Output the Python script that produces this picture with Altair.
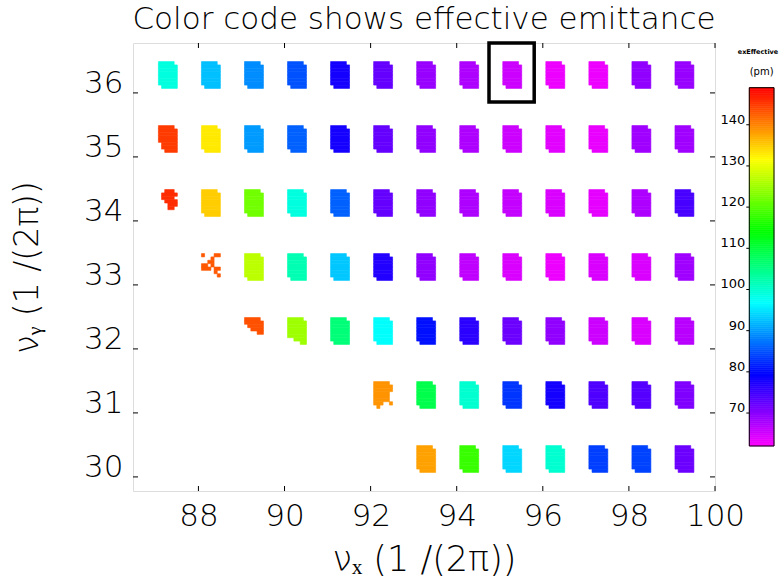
import altair as alt
import pandas as pd

# ---------------- data ----------------
row_nuy = [36, 35, 34, 33, 32, 31, 30]
row_first_nux = [87, 87, 87, 88, 89, 92, 93]
row_emit = [
    [99, 92.5, 89, 85, 78, 72.5, 69, 67.5, 65.5, 63.2, 63.2, 69.5, 69],        # nu_y 36: 87..99
    [145, 133, 90, 86, 78, 72.5, 69.5, 67.5, 65.5, 64, 63.5, 68.5, 68.5],      # nu_y 35: 87..99
    [146, 135, 122, 99, 86, 72.5, 69.5, 67.5, 66, 64.5, 63.8, 67.5, 74.5],     # nu_y 34: 87..99
    [143, 127, 102, 93, 77, 69.5, 66.4, 64.5, 63.2, 64.5, 64.5, 68.5],         # nu_y 33: 88..99
    [143.5, 125, 106, 97, 80.5, 76.5, 72, 69.5, 65.5, 64.5, 66.8],             # nu_y 32: 89..99
    [139, 109, 100, 83, 78, 74, 73.5, 70.7],                                    # nu_y 31: 92..99
    [138, 118, 94, 100, 83.7, 84, 72],                                          # nu_y 30: 93..99
]

# occupied sub-cells (6 columns x 8 rows, top row first) of the tune-scan tiles
default_mask = ["#####.", "######", "######", "######", "######", "######", "######", ".#####"]
partial_masks = {
    (87, 35): ["#####.", "######", "######", "######", "######", ".#####", ".#####", "..####"],
    (87, 34): ["..###.", ".#####", ".####.", "..####", "...###", "...##.", "......", "......"],
    (88, 33): ["#...##", "...#..", "..##..", "##.#..", "###.##", "....#.", ".....#", "......"],
    (89, 32): ["#####.", "######", ".#####", "..####", "....##", "......", "......", "......"],
    (90, 32): ["#####.", "######", "######", "######", "######", "######", "..####", "....##"],
    (92, 31): ["#####.", "######", "######", "#####.", "#####.", "#####.", "###..#", ".#...."],
}

box_nux = [94.75, 95.8]
box_nuy = [35.86, 36.78]

x_ticks = [88, 90, 92, 94, 96, 98, 100]
y_ticks = [30, 31, 32, 33, 34, 35, 36]
cbar_ticks = [70, 80, 90, 100, 110, 120, 130, 140]
cbar_range = [62, 149]
cbar_domain = [62, 79.4, 96.8, 114.2, 131.6, 149]
cbar_colors = ["#ff00ff", "#0000ff", "#00ffff", "#00ff00", "#ffff00", "#ff0000"]
cbar_title = ["exEffective", "(pm)"]

# ---------------- build tile rectangles ----------------
tile_x0, tile_w = 0.07, 0.44
tile_y1, tile_h = 0.49, 0.42
ncol, nrow = 6, 8
dw, dh = tile_w / ncol, tile_h / nrow

recs = []
for nuy, nx0, vals in zip(row_nuy, row_first_nux, row_emit):
    for i, v in enumerate(vals):
        nux = nx0 + i
        mask = partial_masks.get((nux, nuy), default_mask)
        for r, line in enumerate(mask):
            c = 0
            while c < ncol:
                if line[c] == "#":
                    c0 = c
                    while c < ncol and line[c] == "#":
                        c += 1
                    recs.append(dict(
                        x0=nux + tile_x0 + c0 * dw, x1=nux + tile_x0 + c * dw,
                        y1=nuy + tile_y1 - r * dh, y0=nuy + tile_y1 - (r + 1) * dh,
                        emit=v))
                else:
                    c += 1
tiles = pd.DataFrame(recs)

W, H = 582, 448
FONT = "DejaVu Sans"
LIGHT = 200
xscale = alt.Scale(domain=[86.48, 100.0], nice=False, zero=False)
yscale = alt.Scale(domain=[29.78, 36.78], nice=False, zero=False)
cscale = alt.Scale(domain=cbar_domain, range=cbar_colors, interpolate="rgb")
# colour-bar vertical scale: places 62..149 between y=44.7 and y=403 of the plot area
cbscale = alt.Scale(domain=[51.07, 159.85], nice=False, zero=False)

tile_layer = alt.Chart(tiles).mark_rect(strokeWidth=0.6).encode(
    x=alt.X("x0:Q", scale=xscale, title="νₓ  (1 /(2π))",
            axis=alt.Axis(values=x_ticks, ticks=False, domain=False, grid=False,
                          labelFontSize=31, labelFont=FONT, labelFontWeight=LIGHT,
                          labelPadding=10, labelColor="black", labelFlush=False,
                          labelOverlap=False, titleFont=FONT,
                          titleFontSize=35, titleFontWeight=LIGHT, titleColor="black",
                          titlePadding=11, orient="bottom")),
    x2="x1:Q",
    y=alt.Y("y0:Q", scale=yscale, title="νᵧ  (1 /(2π))",
            axis=alt.Axis(values=y_ticks, ticks=False, domain=False, grid=False,
                          labelFontSize=31, labelFont=FONT, labelFontWeight=LIGHT,
                          labelPadding=10, labelBaseline="alphabetic", labelColor="black",
                          labelFlush=False, labelOverlap=False,
                          titleFont=FONT, titleFontSize=33, titleFontWeight=LIGHT,
                          titleColor="black", titlePadding=39, orient="left")),
    y2="y1:Q",
    color=alt.Color("emit:Q", scale=cscale, legend=None),
    stroke=alt.Stroke("emit:Q", scale=cscale, legend=None),
)

box = pd.DataFrame({"x0": [box_nux[0]], "x1": [box_nux[1]], "y0": [box_nuy[0]], "y1": [box_nuy[1]]})
box_layer = alt.Chart(box).mark_rect(fill=None, stroke="black", strokeWidth=3.5).encode(
    x=alt.X("x0:Q", scale=xscale, axis=None), x2="x1:Q",
    y=alt.Y("y0:Q", scale=yscale, axis=None), y2="y1:Q")

xt = pd.DataFrame({"v": x_ticks})
yt = pd.DataFrame({"v": y_ticks})
tick_len = 5
xb = alt.Chart(xt).mark_rule(color="black", strokeWidth=1).encode(
    x=alt.X("v:Q", scale=xscale, axis=None), y=alt.value(H), y2=alt.value(H - tick_len))
xtop = alt.Chart(xt).mark_rule(color="black", strokeWidth=1).encode(
    x=alt.X("v:Q", scale=xscale, axis=None), y=alt.value(0), y2=alt.value(tick_len))
yl = alt.Chart(yt).mark_rule(color="black", strokeWidth=1).encode(
    y=alt.Y("v:Q", scale=yscale, axis=None), x=alt.value(0), x2=alt.value(tick_len))
yr = alt.Chart(yt).mark_rule(color="black", strokeWidth=1).encode(
    y=alt.Y("v:Q", scale=yscale, axis=None), x=alt.value(W), x2=alt.value(W - tick_len))

# ---------------- colour bar ----------------
step = 0.5
n = int((cbar_range[1] - cbar_range[0]) / step)
cb = pd.DataFrame({"lo": [cbar_range[0] + k * step for k in range(n)]})
cb["hi"] = cb["lo"] + step
cb["mid"] = cb["lo"] + step / 2
cbx0, cbx1 = 616.3, 641.0
cb_rects = alt.Chart(cb).mark_rect(strokeWidth=0.6).encode(
    y=alt.Y("lo:Q", scale=cbscale, axis=None), y2="hi:Q",
    x=alt.value(cbx0), x2=alt.value(cbx1),
    color=alt.Color("mid:Q", scale=cscale, legend=None),
    stroke=alt.Stroke("mid:Q", scale=cscale, legend=None))
cb_border = alt.Chart(pd.DataFrame({"lo": [cbar_range[0]], "hi": [cbar_range[1]]})).mark_rect(
    fill=None, stroke="black", strokeWidth=1).encode(
    y=alt.Y("lo:Q", scale=cbscale, axis=None), y2="hi:Q",
    x=alt.value(cbx0), x2=alt.value(cbx1))
cbt = pd.DataFrame({"v": cbar_ticks})
cb_ticks = alt.Chart(cbt).mark_rule(color="black", strokeWidth=1).encode(
    y=alt.Y("v:Q", scale=cbscale, axis=None), x=alt.value(cbx0 - 3), x2=alt.value(cbx0))
cb_labels = alt.Chart(cbt).mark_text(align="right", baseline="bottom", font=FONT,
                                     fontSize=13, fontWeight="normal", color="black",
                                     dx=-1, dy=2).encode(
    y=alt.Y("v:Q", scale=cbscale, axis=None), x=alt.value(cbx0 - 3), text="v:Q")
cb_t1 = alt.Chart(pd.DataFrame({"t": [cbar_title[0]]})).mark_text(
    font=FONT, fontSize=6.5, fontWeight="bold", color="black", align="center",
    baseline="middle").encode(text="t:N", x=alt.value(625), y=alt.value(9))
cb_t2 = alt.Chart(pd.DataFrame({"t": [cbar_title[1]]})).mark_text(
    font=FONT, fontSize=10, color="black", align="center",
    baseline="middle").encode(text="t:N", x=alt.value((cbx0 + cbx1) / 2), y=alt.value(29))

chart = alt.layer(tile_layer, box_layer, xb, xtop, yl, yr,
                  cb_rects, cb_border, cb_ticks, cb_labels, cb_t1, cb_t2).resolve_scale(
    x="independent", y="independent").properties(
    width=W, height=H,
    autosize=alt.AutoSizeParams(type="none"),
    padding={"left": 133, "top": 43, "right": 782 - 133 - W, "bottom": 585 - 43 - H},
    title=alt.Title("Color code shows effective emittance", font=FONT, fontSize=31,
                    fontWeight=LIGHT, color="black", anchor="middle", offset=5),
).configure_view(stroke="black", strokeWidth=1.5).configure(background="white")

chart.save("out.html", embed_options={"renderer": "svg", "actions": False})
